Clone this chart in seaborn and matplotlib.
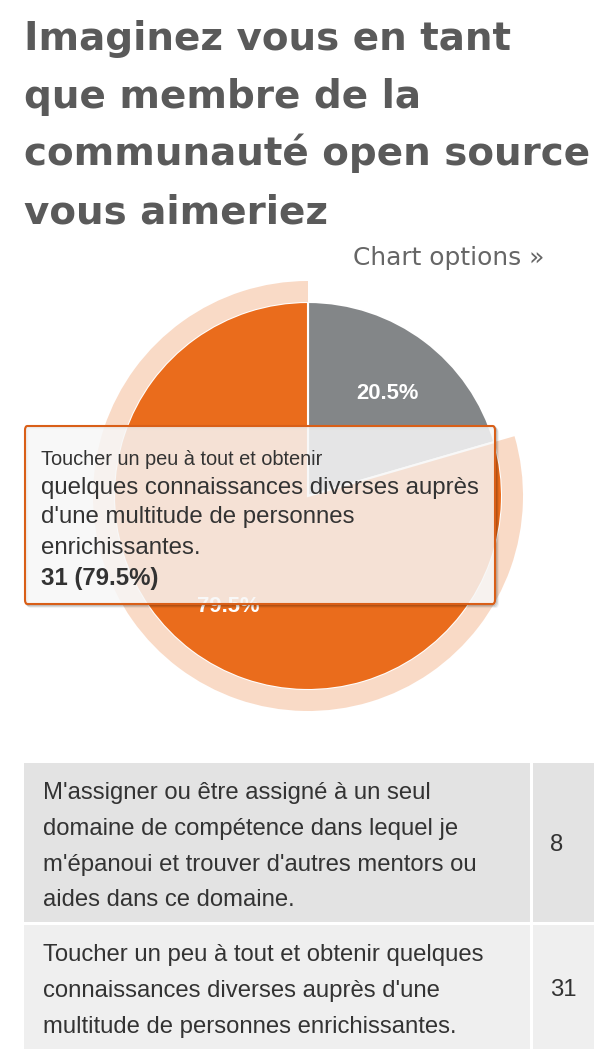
import matplotlib
matplotlib.use("Agg")
import matplotlib.pyplot as plt
import seaborn as sns
from matplotlib.patches import Rectangle, FancyBboxPatch, Wedge

sns.set_theme(style="white")
plt.rcParams['font.family'] = ['Liberation Sans', 'DejaVu Sans']

# ---------------- données ----------------
title_lines = ["Imaginez vous en tant", "que membre de la",
               "communauté open source", "vous aimeriez"]
answers = ["M'assigner ou être assigné à un seul domaine de compétence dans lequel je "
           "m'épanoui et trouver d'autres mentors ou aides dans ce domaine.",
           "Toucher un peu à tout et obtenir quelques connaissances diverses auprès "
           "d'une multitude de personnes enrichissantes."]
counts = [8, 31]
colors = ['#838688', '#ea6c1c']
answer_lines = [["M'assigner ou être assigné à un seul",
                 "domaine de compétence dans lequel je",
                 "m'épanoui et trouver d'autres mentors ou",
                 "aides dans ce domaine."],
                ["Toucher un peu à tout et obtenir quelques",
                 "connaissances diverses auprès d'une",
                 "multitude de personnes enrichissantes."]]
tooltip_header = "Toucher un peu à tout et obtenir"
tooltip_body = ["quelques connaissances diverses auprès",
                "d'une multitude de personnes",
                "enrichissantes."]
hover_idx = 1

W, H = 606, 1064
fig = plt.figure(figsize=(W / 100, H / 100), dpi=100)


def fx(x):
    return x / W


def fy(y):
    return 1 - y / H


# ---------------- titre ----------------
for i, line in enumerate(title_lines):
    fig.text(fx(24), fy(50 + 57.7 * i), line, family='DejaVu Sans', weight='bold',
             fontsize=28.0, color='#5a5a5a', va='baseline', ha='left')
fig.text(fx(353), fy(265), "Chart options »", family='DejaVu Sans', fontsize=17.9,
         color='#666666', va='baseline', ha='left')

# ---------------- camembert ----------------
cx, cy, half = 308, 496, 250
ax = fig.add_axes([fx(cx - half), fy(cy + half), 2 * half / W, 2 * half / H])
total = sum(counts)
pcts = [c / total * 100 for c in counts]
wedges, texts = ax.pie(counts, colors=colors, startangle=90, counterclock=False,
                       radius=194, labels=[f"{p:.1f}%" for p in pcts], labeldistance=0.685,
                       wedgeprops=dict(edgecolor='white', linewidth=1.5))
for t in texts:
    t.set_color('white')
    t.set_fontweight('bold')
    t.set_fontsize(15.8)
    t.set_ha('center')
    t.set_va('center')
    px, py = t.get_position()
    t.set_position((px, py - 4))
hw = wedges[hover_idx]
ax.add_patch(Wedge((0, 0), 215, hw.theta1, hw.theta2, width=21,
                   facecolor=colors[hover_idx], alpha=0.25, edgecolor='none'))
ax.set_xlim(-half, half)
ax.set_ylim(-half, half)
ax.set_aspect('equal')
ax.axis('off')

# ---------------- infobulle ----------------
x0, y0, x1, y1 = 25, 426, 495, 604
for off, a in [(3, 0.05), (2, 0.1), (1, 0.15)]:
    fig.patches.append(FancyBboxPatch((fx(x0 + off), fy(y1 + off)), fx(x1 - x0), (y1 - y0) / H,
                                      boxstyle="round,pad=0,rounding_size=0.004",
                                      transform=fig.transFigure, facecolor='none',
                                      edgecolor='black', alpha=a, linewidth=1.5, zorder=9))
box = FancyBboxPatch((fx(x0), fy(y1)), fx(x1 - x0), (y1 - y0) / H,
                     boxstyle="round,pad=0,rounding_size=0.004", transform=fig.transFigure,
                     facecolor=(247 / 255, 247 / 255, 247 / 255, 0.85),
                     edgecolor='#d95f18', linewidth=1.5, zorder=10)
fig.patches.append(box)
fig.text(fx(41), fy(465), tooltip_header, fontsize=14.4, color='#333333',
         va='baseline', zorder=11)
for i, line in enumerate(tooltip_body):
    fig.text(fx(41), fy(493.5 + 30 * i), line, fontsize=17.3, color='#333333',
             va='baseline', zorder=11)
fig.text(fx(41), fy(585), f"{counts[hover_idx]} ({pcts[hover_idx]:.1f}%)", fontsize=17.3,
         weight='bold', color='#333333', va='baseline', zorder=11)

# ---------------- tableau ----------------
rows = [(763, 922, '#e3e3e3'), (925, 1049, '#efefef')]
line_y = [[791, 827, 863, 898], [953, 989, 1025]]
for (top, bot, col), lines, ys, n in zip(rows, answer_lines, line_y, counts):
    fig.patches.append(Rectangle((fx(24), fy(bot)), fx(530 - 24), (bot - top) / H,
                                 transform=fig.transFigure, facecolor=col, edgecolor='none'))
    fig.patches.append(Rectangle((fx(533), fy(bot)), fx(594 - 533), (bot - top) / H,
                                 transform=fig.transFigure, facecolor=col, edgecolor='none'))
    for line, y in zip(lines, ys):
        fig.text(fx(43), fy(y), line, fontsize=17.2, color='#333333', va='center_baseline')
    fig.text(fx(550), fy((top + bot) / 2), str(n), fontsize=17.2, color='#333333',
             va='center_baseline')

fig.savefig('out.png', dpi=100)
